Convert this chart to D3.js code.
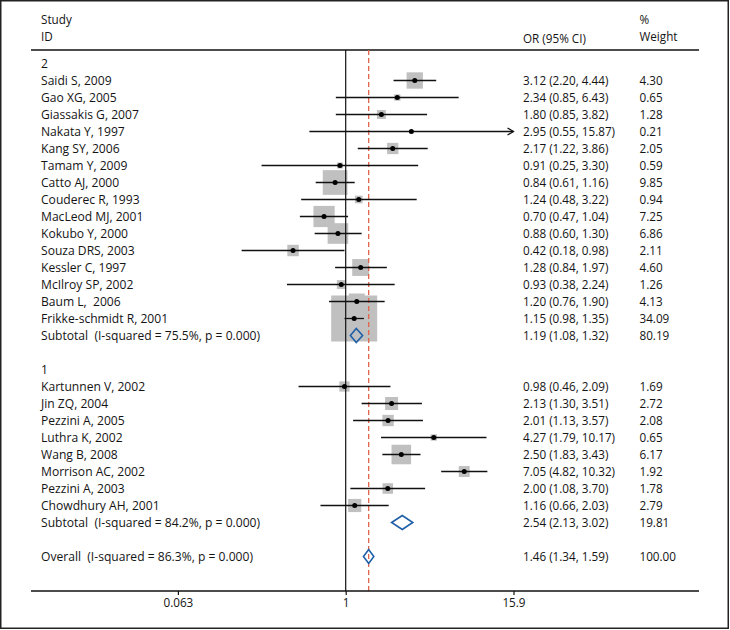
<!DOCTYPE html>
<html><head><meta charset="utf-8">
<script src="https://cdn.jsdelivr.net/npm/d3@7"></script>
<style>
html,body{margin:0;padding:0;background:#fff;}
text{font-family:"Open Sans",sans-serif;font-size:11.7px;fill:#141414;white-space:pre;}
text.lbl{font-size:12.1px;}
</style></head>
<body><svg id="c" width="730" height="630"></svg>
<script>
// ---- data ----
const group2Label = "2";
const names2 = ["Saidi S, 2009","Gao XG, 2005","Giassakis G, 2007","Nakata Y, 1997","Kang SY, 2006","Tamam Y, 2009","Catto AJ, 2000","Couderec R, 1993","MacLeod MJ, 2001","Kokubo Y, 2000","Souza DRS, 2003","Kessler C, 1997","McIlroy SP, 2002","Baum L,  2006","Frikke-schmidt R, 2001"];
const or2 = [3.12,2.34,1.80,2.95,2.17,0.91,0.84,1.24,0.70,0.88,0.42,1.28,0.93,1.20,1.15];
const lo2 = [2.20,0.85,0.85,0.55,1.22,0.25,0.61,0.48,0.47,0.60,0.18,0.84,0.38,0.76,0.98];
const hi2 = [4.44,6.43,3.82,15.87,3.86,3.30,1.16,3.22,1.04,1.30,0.98,1.97,2.24,1.90,1.35];
const w2  = [4.30,0.65,1.28,0.21,2.05,0.59,9.85,0.94,7.25,6.86,2.11,4.60,1.26,4.13,34.09];
const sub2 = {label:"Subtotal  (I-squared = 75.5%, p = 0.000)", or:1.19, lo:1.08, hi:1.32, w:80.19};

const group1Label = "1";
const names1 = ["Kartunnen V, 2002","Jin ZQ, 2004","Pezzini A, 2005","Luthra K, 2002","Wang B, 2008","Morrison AC, 2002","Pezzini A, 2003","Chowdhury AH, 2001"];
const or1 = [0.98,2.13,2.01,4.27,2.50,7.05,2.00,1.16];
const lo1 = [0.46,1.30,1.13,1.79,1.83,4.82,1.08,0.66];
const hi1 = [2.09,3.51,3.57,10.17,3.43,10.32,3.70,2.03];
const w1  = [1.69,2.72,2.08,0.65,6.17,1.92,1.78,2.79];
const sub1 = {label:"Subtotal  (I-squared = 84.2%, p = 0.000)", or:2.54, lo:2.13, hi:3.02, w:19.81};

const overall = {label:"Overall  (I-squared = 86.3%, p = 0.000)", or:1.46, lo:1.34, hi:1.59, w:100.00};

const tickValues = [0.063, 1, 1/0.063];
const tickLabels = ["0.063", "1", "15.9"];
const headers = {study:"Study", id:"ID", or:"OR (95% CI)", pct:"%", weight:"Weight"};

// ---- layout ----
const svg = d3.select("#c");
const x = d3.scaleLog().domain([0.063, 1/0.063]).range([177.9, 513.5]);
const rowY = d3.scaleLinear().domain([0, 29]).range([63.5, 556.5]);
const boxSide = d3.scaleSqrt().domain([0, 34.09]).range([0, 46]);
const fmt = d3.format(".2f");
const ci = (o,l,h) => `${fmt(o)} (${fmt(l)}, ${fmt(h)})`;

const rows = [];
rows.push({type:"group", label:group2Label, row:0});
names2.forEach((n,i)=>rows.push({type:"study", label:n, or:or2[i], lo:lo2[i], hi:hi2[i], w:w2[i], row:1+i}));
rows.push(Object.assign({type:"sub", row:16}, sub2));
rows.push({type:"group", label:group1Label, row:18});
names1.forEach((n,i)=>rows.push({type:"study", label:n, or:or1[i], lo:lo1[i], hi:hi1[i], w:w1[i], row:19+i}));
rows.push(Object.assign({type:"sub", row:27}, sub1));
rows.push(Object.assign({type:"sub", row:29}, overall));

const xText = 41, xOR = 523, xW = 639.5;
const yTop = 50, yAxis = 591;
const colStroke = "#111";

// border
svg.append("rect").attr("x",0.75).attr("y",0.75).attr("width",727.5).attr("height",627.5)
  .attr("fill","none").attr("stroke","#222").attr("stroke-width",1.5);

// headers
svg.append("text").attr("x",xText).attr("y",20).attr("dy","0.35em").text(headers.study);
svg.append("text").attr("x",xText).attr("y",36.5).attr("dy","0.35em").text(headers.id);
svg.append("text").attr("x",xOR).attr("y",39).attr("dy","0.35em").text(headers.or);
svg.append("text").attr("x",xW).attr("y",20).attr("dy","0.35em").text(headers.pct);
svg.append("text").attr("x",xW).attr("y",36.5).attr("dy","0.35em").text(headers.weight);
svg.append("line").attr("x1",31).attr("x2",699).attr("y1",yTop).attr("y2",yTop)
  .attr("stroke",colStroke).attr("stroke-width",1.3);

// boxes
const studies = rows.filter(r=>r.type==="study");
svg.append("g").selectAll("rect").data(studies).join("rect")
  .attr("x",d=>x(d.or)-boxSide(d.w)/2).attr("y",d=>rowY(d.row)-boxSide(d.w)/2)
  .attr("width",d=>boxSide(d.w)).attr("height",d=>boxSide(d.w))
  .attr("fill","#c0c0c0");

// null line & overall line
svg.append("line").attr("x1",x(1)).attr("x2",x(1)).attr("y1",yTop).attr("y2",yAxis)
  .attr("stroke",colStroke).attr("stroke-width",1.2);
svg.append("line").attr("x1",x(overall.or)).attr("x2",x(overall.or)).attr("y1",yTop).attr("y2",yAxis)
  .attr("stroke","#e2654a").attr("stroke-width",1.3).attr("stroke-dasharray","5,3");

// CI lines
const xmax = x.domain()[1];
const g = svg.append("g");
studies.forEach(d=>{
  const y = rowY(d.row);
  const clipped = d.hi >= xmax - 0.01;
  const x2 = clipped ? x.range()[1] : x(d.hi);
  g.append("line").attr("x1",x(d.lo)).attr("x2",x2).attr("y1",y).attr("y2",y)
    .attr("stroke",colStroke).attr("stroke-width",1.3);
  if (clipped) {
    g.append("path").attr("d",`M${x2-6},${y-3.5}L${x2},${y}L${x2-6},${y+3.5}`)
      .attr("fill","none").attr("stroke",colStroke).attr("stroke-width",1.2);
  }
  g.append("circle").attr("cx",x(d.or)).attr("cy",y).attr("r",2.5).attr("fill","#000");
});

// diamonds
const subs = rows.filter(r=>r.type==="sub");
svg.append("g").selectAll("path").data(subs).join("path")
  .attr("d",d=>{const y=rowY(d.row);return `M${x(d.lo)},${y}L${x(d.or)},${y-7}L${x(d.hi)},${y}L${x(d.or)},${y+7}Z`;})
  .attr("fill","none").attr("stroke","#1f5fa8").attr("stroke-width",1.6);

// labels
const tg = svg.append("g");
rows.forEach(d=>{
  const y = rowY(d.row);
  tg.append("text").attr("class","lbl").attr("x",xText).attr("y",y).attr("dy","0.35em").text(d.label);
  if (d.type!=="group") {
    tg.append("text").attr("x",xOR).attr("y",y).attr("dy","0.35em").text(ci(d.or,d.lo,d.hi));
    tg.append("text").attr("x",xW).attr("y",y).attr("dy","0.35em").text(fmt(d.w));
  }
});

// axis
svg.append("line").attr("x1",31).attr("x2",699).attr("y1",yAxis).attr("y2",yAxis)
  .attr("stroke",colStroke).attr("stroke-width",1.3);
const axis = d3.axisBottom(x).tickValues(tickValues).tickSize(4).tickSizeOuter(0)
  .tickFormat((v,i)=>tickLabels[i]);
const ag = svg.append("g").attr("transform",`translate(0,${yAxis})`).call(axis);
ag.select(".domain").remove();
ag.selectAll(".tick line").attr("stroke",colStroke).attr("stroke-width",1.2);
ag.selectAll(".tick text").attr("y",12).attr("dy","0.35em").style("font-family","\"Open Sans\",sans-serif").style("font-size","11.7px").attr("fill","#141414");
</script></body></html>
